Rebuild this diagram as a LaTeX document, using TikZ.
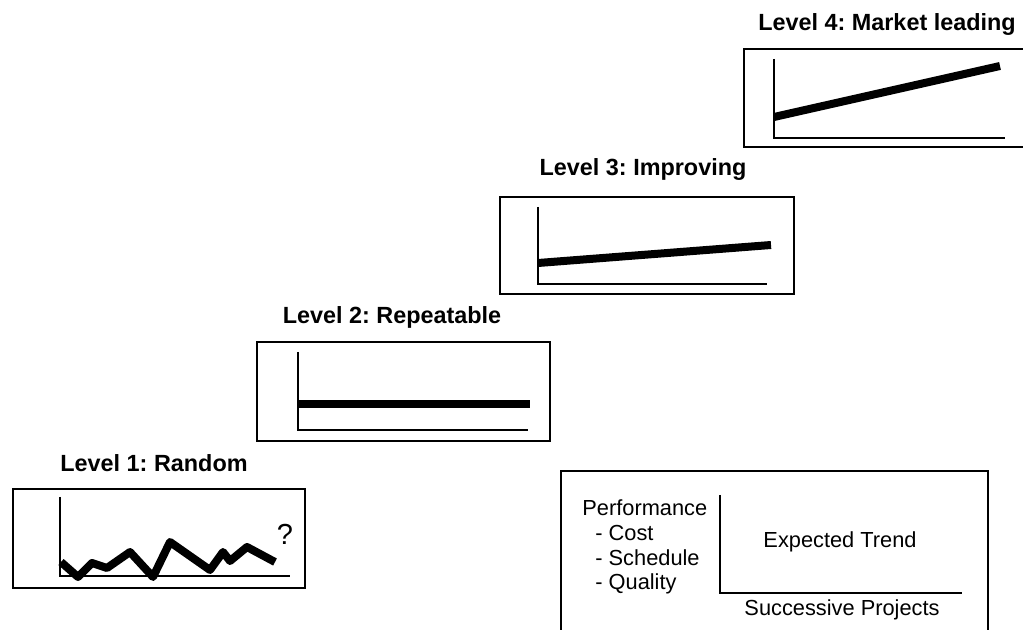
\documentclass[tikz,border=0pt]{standalone}
\usepackage{fontspec}
\setmainfont{Liberation Sans}
\frenchspacing

\begin{document}
\begin{tikzpicture}[x=0.5pt,y=-0.5pt]
	\tikzset{
		panel/.style={draw=black,line width=0.8pt},
		axis/.style={draw=black,line width=0.6pt},
		trend/.style={draw=black,line width=4pt,line join=round},
		level/.style={font=\fontsize{11.7}{14}\selectfont\bfseries,inner sep=0pt},
		legend/.style={font=\fontsize{10.9}{13}\selectfont,inner sep=0pt}
	}
	\useasboundingbox (0,0) rectangle (1023,630);

	% level 1
	\node[level] (l1) at (154,463) {Level 1: Random};
	\draw[panel] (13,489) rectangle (305,588);
	\draw[axis] (60,497) -- (60,576) -- (290,576);
	\draw[trend] (61,562) -- (78,577) -- (92,563) -- (107,568) -- (130,552) -- (153,577) -- (170,542) -- (210,570) -- (223,552) -- (230,561) -- (247,547) -- (275,562);
	\node[legend,font=\fontsize{14.5}{16}\selectfont] (q) at (285,534) {?};

	% level 2
	\node[level] (l2) at (392,317) {Level 2: Repeatable};
	\draw[panel] (257,342) rectangle (550,441);
	\draw[axis] (298,352) -- (298,430) -- (528,430);
	\draw[trend,line join=miter] (298,404) -- (530,404);

	% level 3
	\node[level] (l3) at (643,170) {Level 3: Improving};
	\draw[panel] (500,197) rectangle (794,294);
	\draw[axis] (538,207) -- (538,284) -- (767,284);
	\draw[trend] (538,263) -- (771,245);

	% level 4
	\node[level] (l4) at (887,25) {Level 4: Market leading};
	\draw[panel] (744,49) rectangle (1040,147);
	\draw[axis] (774,59) -- (774,138) -- (1005,138);
	\draw[trend] (774,117) -- (1000,66);

	% legend
	\draw[panel] (561,471) rectangle (988,640);
	\draw[axis] (720,495) -- (720,593) -- (962,593);
	\node[legend,anchor=west] (perf) at (582,508) {Performance};
	\node[legend,anchor=west] (cost) at (595,533) {- Cost};
	\node[legend,anchor=west] (sched) at (595,558) {- Schedule};
	\node[legend,anchor=west] (qual) at (595,584) {- Quality};
	\node[legend] (exp) at (840,542) {Expected Trend};
	\node[legend] (succ) at (842,610) {Successive Projects};
\end{tikzpicture}
\end{document}
